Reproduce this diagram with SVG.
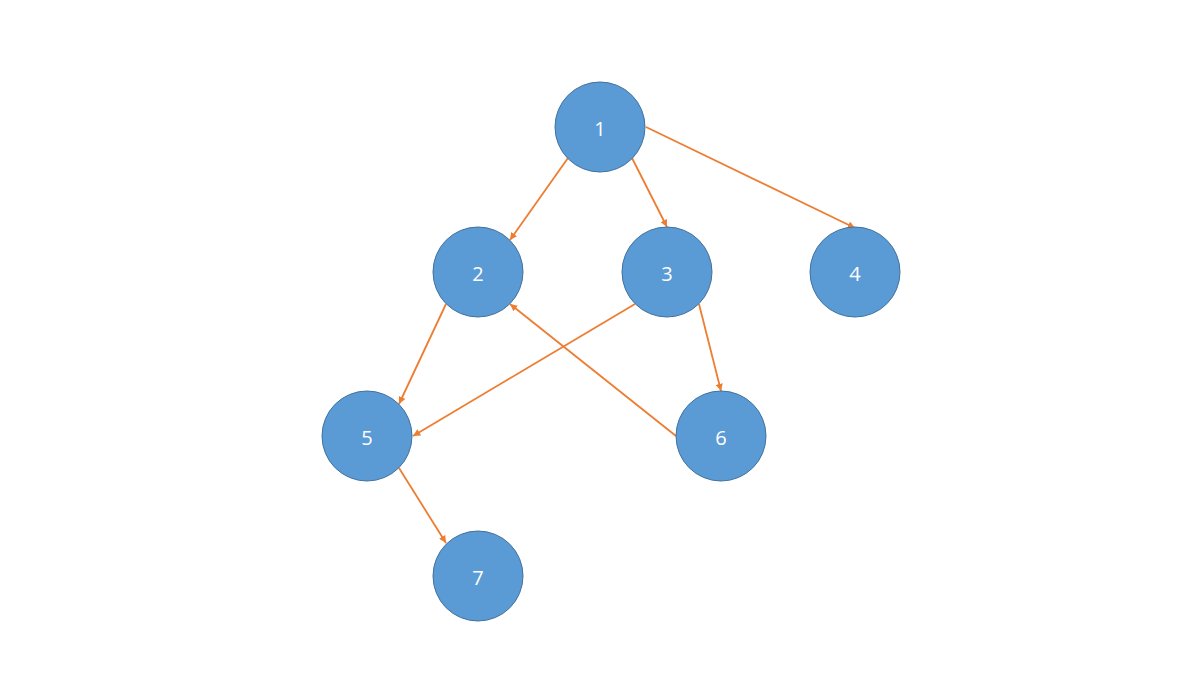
<svg xmlns="http://www.w3.org/2000/svg" width="1200" height="675" viewBox="0 0 1200 675">
<style>
.node circle{fill:#5B9BD5;stroke:#41719C;stroke-width:1}
.node text{fill:#fff;font-family:"Open Sans","Noto Sans",sans-serif;font-size:20px;text-anchor:middle;dominant-baseline:central}
.edge{stroke:#ED7D31;stroke-width:1.8;fill:none;marker-end:url(#ah)}
</style>
<defs>
<marker id="ah" viewBox="0 0 10 10" refX="10" refY="5" markerWidth="4.2" markerHeight="4" markerUnits="strokeWidth" orient="auto">
<path d="M0,0 L10,5 L0,10 z" fill="#ED7D31"/>
</marker>
</defs>
<rect width="1200" height="675" fill="#fff"/>
<g id="connectors">
<line class="edge" x1="568" y1="158" x2="510" y2="240"/>
<line class="edge" x1="632" y1="158" x2="667" y2="227"/>
<line class="edge" x1="646" y1="127" x2="855" y2="228"/>
<line class="edge" x1="446" y1="304" x2="399" y2="404"/>
<line class="edge" x1="635" y1="304" x2="413" y2="436"/>
<line class="edge" x1="676" y1="436" x2="510" y2="304"/>
<line class="edge" x1="699" y1="304" x2="721" y2="391"/>
<line class="edge" x1="399" y1="468" x2="446" y2="543"/>
</g>
<g id="n1" class="node"><circle cx="600" cy="127" r="45"/><text x="600" y="128">1</text></g>
<g id="n2" class="node"><circle cx="478" cy="272" r="45"/><text x="478" y="273">2</text></g>
<g id="n3" class="node"><circle cx="667" cy="272" r="45"/><text x="667" y="273">3</text></g>
<g id="n4" class="node"><circle cx="855" cy="272" r="45"/><text x="855" y="273">4</text></g>
<g id="n5" class="node"><circle cx="367" cy="436" r="45"/><text x="367" y="437">5</text></g>
<g id="n6" class="node"><circle cx="721" cy="436" r="45"/><text x="721" y="437">6</text></g>
<g id="n7" class="node"><circle cx="478" cy="576" r="45"/><text x="478" y="577">7</text></g>
</svg>
